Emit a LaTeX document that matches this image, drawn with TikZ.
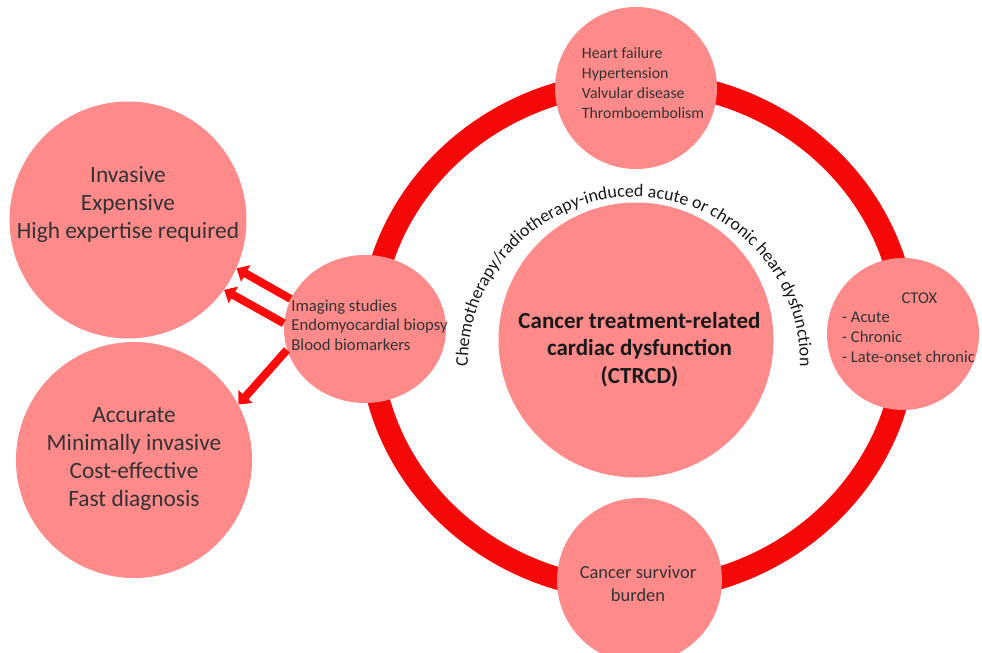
\documentclass[tikz,border=0pt]{standalone}
\usepackage{fontspec}
\setmainfont{Carlito}
\usepackage{tikz}
\usetikzlibrary{arrows.meta,shapes.geometric,decorations.text}
\definecolor{ringred}{HTML}{F50808}
\definecolor{blobpink}{HTML}{FF8A8A}
\definecolor{arrowred}{HTML}{FF0A0A}
\definecolor{labelgray}{HTML}{333333}

\begin{document}
\begin{tikzpicture}[
        blob/.style={circle, fill=blobpink, draw=none, inner sep=0pt},
        midblob/.style={ellipse, fill=blobpink, draw=none, inner sep=0pt,
        minimum width=3.24cm, minimum height=2.96cm},
        ring/.style={draw=ringred, line width=12.8pt},
        flow/.style={-{Triangle[length=6pt, width=10.5pt]}, line width=4.6pt,
        arrowred},
        bigtxt/.style={align=center, text=labelgray,
        font=\fontsize{13.3pt}{15.9pt}\selectfont},
        coretxt/.style={align=center, text=black!90,
        font=\fontsize{13.1pt}{15.7pt}\selectfont\bfseries},
        smalltxt/.style={align=left, text=labelgray,
        font=\fontsize{9.5pt}{11.2pt}\selectfont},
      ]
      \useasboundingbox[fill=white] (-12.76,-6.32) rectangle (6.88,6.72);

      % Outer ring behind the satellites
      \draw[ring] (0,0) ellipse [x radius=5.36, y radius=5.08];

      % Central circle and the text bent round it
      \node[blob, minimum size=5.5cm] (ctrcd) at (-0.04,-0.08) {};
      \node[coretxt] (ctrcdtxt) at (0.03,-0.27)
      {Cancer treatment-related\\cardiac dysfunction\\(CTRCD)};
      \path[decorate, decoration={text along path, text align=center,
          text color=black!90,
          text={|\fontsize{10.2pt}{12pt}\selectfont|Chemotherapy/radiotherapy-induced acute or chronic heart dysfunction}}]
      (-0.08,-0.54) ++(184:3.32) arc[start angle=184, end angle=-4, radius=3.32];

      % Satellites on the ring
      \node[blob, minimum size=3.24cm] (disease) at (-0.04,4.96) {};
      \node[smalltxt, font=\fontsize{9.0pt}{11.4pt}\selectfont] (diseasetxt)
      at (0.1,5.06) {Heart failure\\Hypertension\\Valvular disease\\Thromboembolism};

      \node[blob, minimum size=3.04cm] (ctox) at (5.3,0.04) {};
      \node[smalltxt, font=\fontsize{9.4pt}{11.2pt}\selectfont] (ctoxtxt)
      at (5.41,0.17) {\hspace*{3.6em}CTOX\\- Acute\\- Chronic\\- Late-onset chronic};

      \node[blob, minimum size=3.3cm] (burden) at (0.03,-4.89) {};
      \node[bigtxt, font=\fontsize{10.5pt}{13.1pt}\selectfont] (burdentxt)
      at (0,-4.95) {Cancer survivor\\burden};

      \node[midblob] (diag) at (-5.46,0.14) {};
      \node[smalltxt] (diagtxt) at (-5.37,0.22)
      {Imaging studies\\Endomyocardial biopsy\\Blood biomarkers};

      % Left: drawbacks and wanted features
      \node[blob, minimum size=4.74cm] (invasive) at (-10.2,2.32) {};
      \node[bigtxt] (invasivetxt) at (-10.2,2.63)
      {Invasive\\Expensive\\High expertise required};

      \node[blob, minimum size=4.72cm] (accurate) at (-10.08,-2.48) {};
      \node[bigtxt] (accuratetxt) at (-10.08,-2.46)
      {Accurate\\Minimally invasive\\Cost-effective\\Fast diagnosis};

      \draw[flow] (diag.158) -- (invasive.336);
      \draw[flow] (diag.176) -- (invasive.324);
      \draw[flow] (diag.195) -- (accurate.28);
    \end{tikzpicture}
\end{document}
